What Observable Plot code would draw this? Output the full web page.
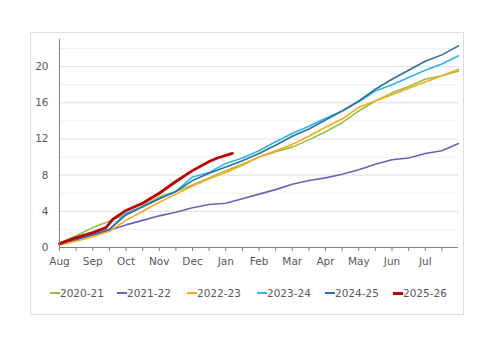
<!DOCTYPE html>
<html><head><meta charset="utf-8">
<script src="https://cdn.jsdelivr.net/npm/d3@7"></script>
<script src="https://cdn.jsdelivr.net/npm/@observablehq/plot@0.6"></script>
<style>
body{margin:0;background:#fff;}
#wrap{position:relative;width:500px;height:353px;font-family:"DejaVu Sans",sans-serif;color:#595959;}
#box{position:absolute;left:30px;top:32px;width:434px;height:283px;border:1px solid #dcdcdc;box-sizing:border-box;}
#chart{position:absolute;left:0;top:0;}
.li{position:absolute;top:286px;height:14px;display:flex;align-items:center;font-size:10.5px;white-space:nowrap;}
.li span.sw{display:inline-block;width:10px;margin-right:0;}
</style></head>
<body><div id="wrap"><div id="box"></div><div id="chart"></div></div>
<script>
const months = ["Aug","Sep","Oct","Nov","Dec","Jan","Feb","Mar","Apr","May","Jun","Jul"];
const seasons = ["2020-21","2021-22","2022-23","2023-24","2024-25","2025-26"];
const colors = ["#94c13f","#6a62b6","#fba91c","#2eb6ea","#2f6ea6","#c00000"];
// positions in months since 1 Aug (half-month steps)
const halfMonth = [0,0.5,1,1.5,2,2.5,3,3.5,4,4.5,5,5.5,6,6.5,7,7.5,8,8.5,9,9.5,10,10.5,11,11.5,12];
const s2020 = [0.5,1.3,2.2,2.9,3.7,4.6,5.6,6.2,6.9,7.7,8.5,9.2,10.0,10.6,11.1,11.9,12.8,13.8,15.1,16.2,17.1,17.8,18.6,19.0,19.5];
const s2021 = [0.4,0.9,1.4,1.9,2.5,3.0,3.5,3.9,4.4,4.75,4.9,5.4,5.9,6.4,7.0,7.4,7.7,8.1,8.6,9.2,9.7,9.9,10.4,10.7,11.5];
const s2022 = [0.3,0.7,1.2,1.8,3.0,4.0,5.0,5.9,6.8,7.6,8.3,9.1,10.0,10.7,11.4,12.3,13.3,14.2,15.5,16.2,16.9,17.6,18.3,19.0,19.7];
const s2023 = [0.5,1.0,1.4,2.0,3.8,4.5,5.4,6.2,7.8,8.3,9.3,9.9,10.7,11.7,12.6,13.4,14.3,15.1,16.1,17.3,18.0,18.8,19.6,20.3,21.2];
const s2024 = [0.5,0.9,1.4,2.0,3.6,4.5,5.4,6.2,7.4,8.2,8.9,9.6,10.4,11.3,12.3,13.1,14.1,15.1,16.2,17.5,18.6,19.6,20.6,21.3,22.3];
const redPos = [0,0.5,1,1.4,1.6,2,2.5,3,3.5,4,4.5,4.75,5.2];
const s2025 = [0.4,1.1,1.65,2.2,3.1,4.1,4.9,6.0,7.3,8.5,9.5,9.9,10.4];
const yTicks = [0,4,8,12,16,20];
const yMinor = [2,6,10,14,18,22];

const past = [s2020,s2021,s2022,s2023,s2024];
const rows = [];
past.forEach((arr,i)=>arr.forEach((v,j)=>rows.push({season:seasons[i],m:halfMonth[j],v})));
const redRows = s2025.map((v,j)=>({season:seasons[5],m:redPos[j],v}));

const chart = Plot.plot({
  width:500, height:353,
  marginLeft:59, marginRight:42, marginTop:39, marginBottom:106,
  style:{fontFamily:"DejaVu Sans, sans-serif", fontSize:"10.5px", color:"#595959", background:"transparent"},
  x:{domain:[0,12]},
  y:{domain:[0,23]},
  color:{domain:seasons, range:colors},
  marks:[
    Plot.ruleY(yMinor,{stroke:"#f0f0f0",strokeWidth:1}),
    Plot.ruleY(yTicks.filter(d=>d>0),{stroke:"#dedede",strokeWidth:1}),
    Plot.axisY({ticks:yTicks, tickSize:0, tickPadding:11, fill:"#595959", label:null}),
    Plot.axisX({ticks:halfMonth.filter(d=>d<12), tickSize:4, tickPadding:6, stroke:"#808080", fill:"#595959",
      tickFormat:d=>Number.isInteger(d)?months[d]:"", label:null}),
    Plot.line(rows,{x:"m",y:"v",z:"season",stroke:"season",strokeWidth:1.6}),
    Plot.line(redRows,{x:"m",y:"v",stroke:"season",strokeWidth:2.8}),
    Plot.ruleX([0],{y1:0,y2:23,stroke:"#808080",strokeWidth:1}),
    Plot.ruleY([0],{stroke:"#808080",strokeWidth:1})
  ]
});
document.getElementById("chart").appendChild(chart);

const legendX = [50,117,187,257,325,393];
const wrap = document.getElementById("wrap");
seasons.forEach((s,i)=>{
  const d = document.createElement("div");
  d.className="li"; d.style.left=legendX[i]+"px";
  const sw = document.createElement("span"); sw.className="sw";
  sw.style.borderTop=(i===5?3:2)+"px solid "+colors[i];
  d.appendChild(sw);
  d.appendChild(document.createTextNode(s));
  wrap.appendChild(d);
});
</script></body></html>
